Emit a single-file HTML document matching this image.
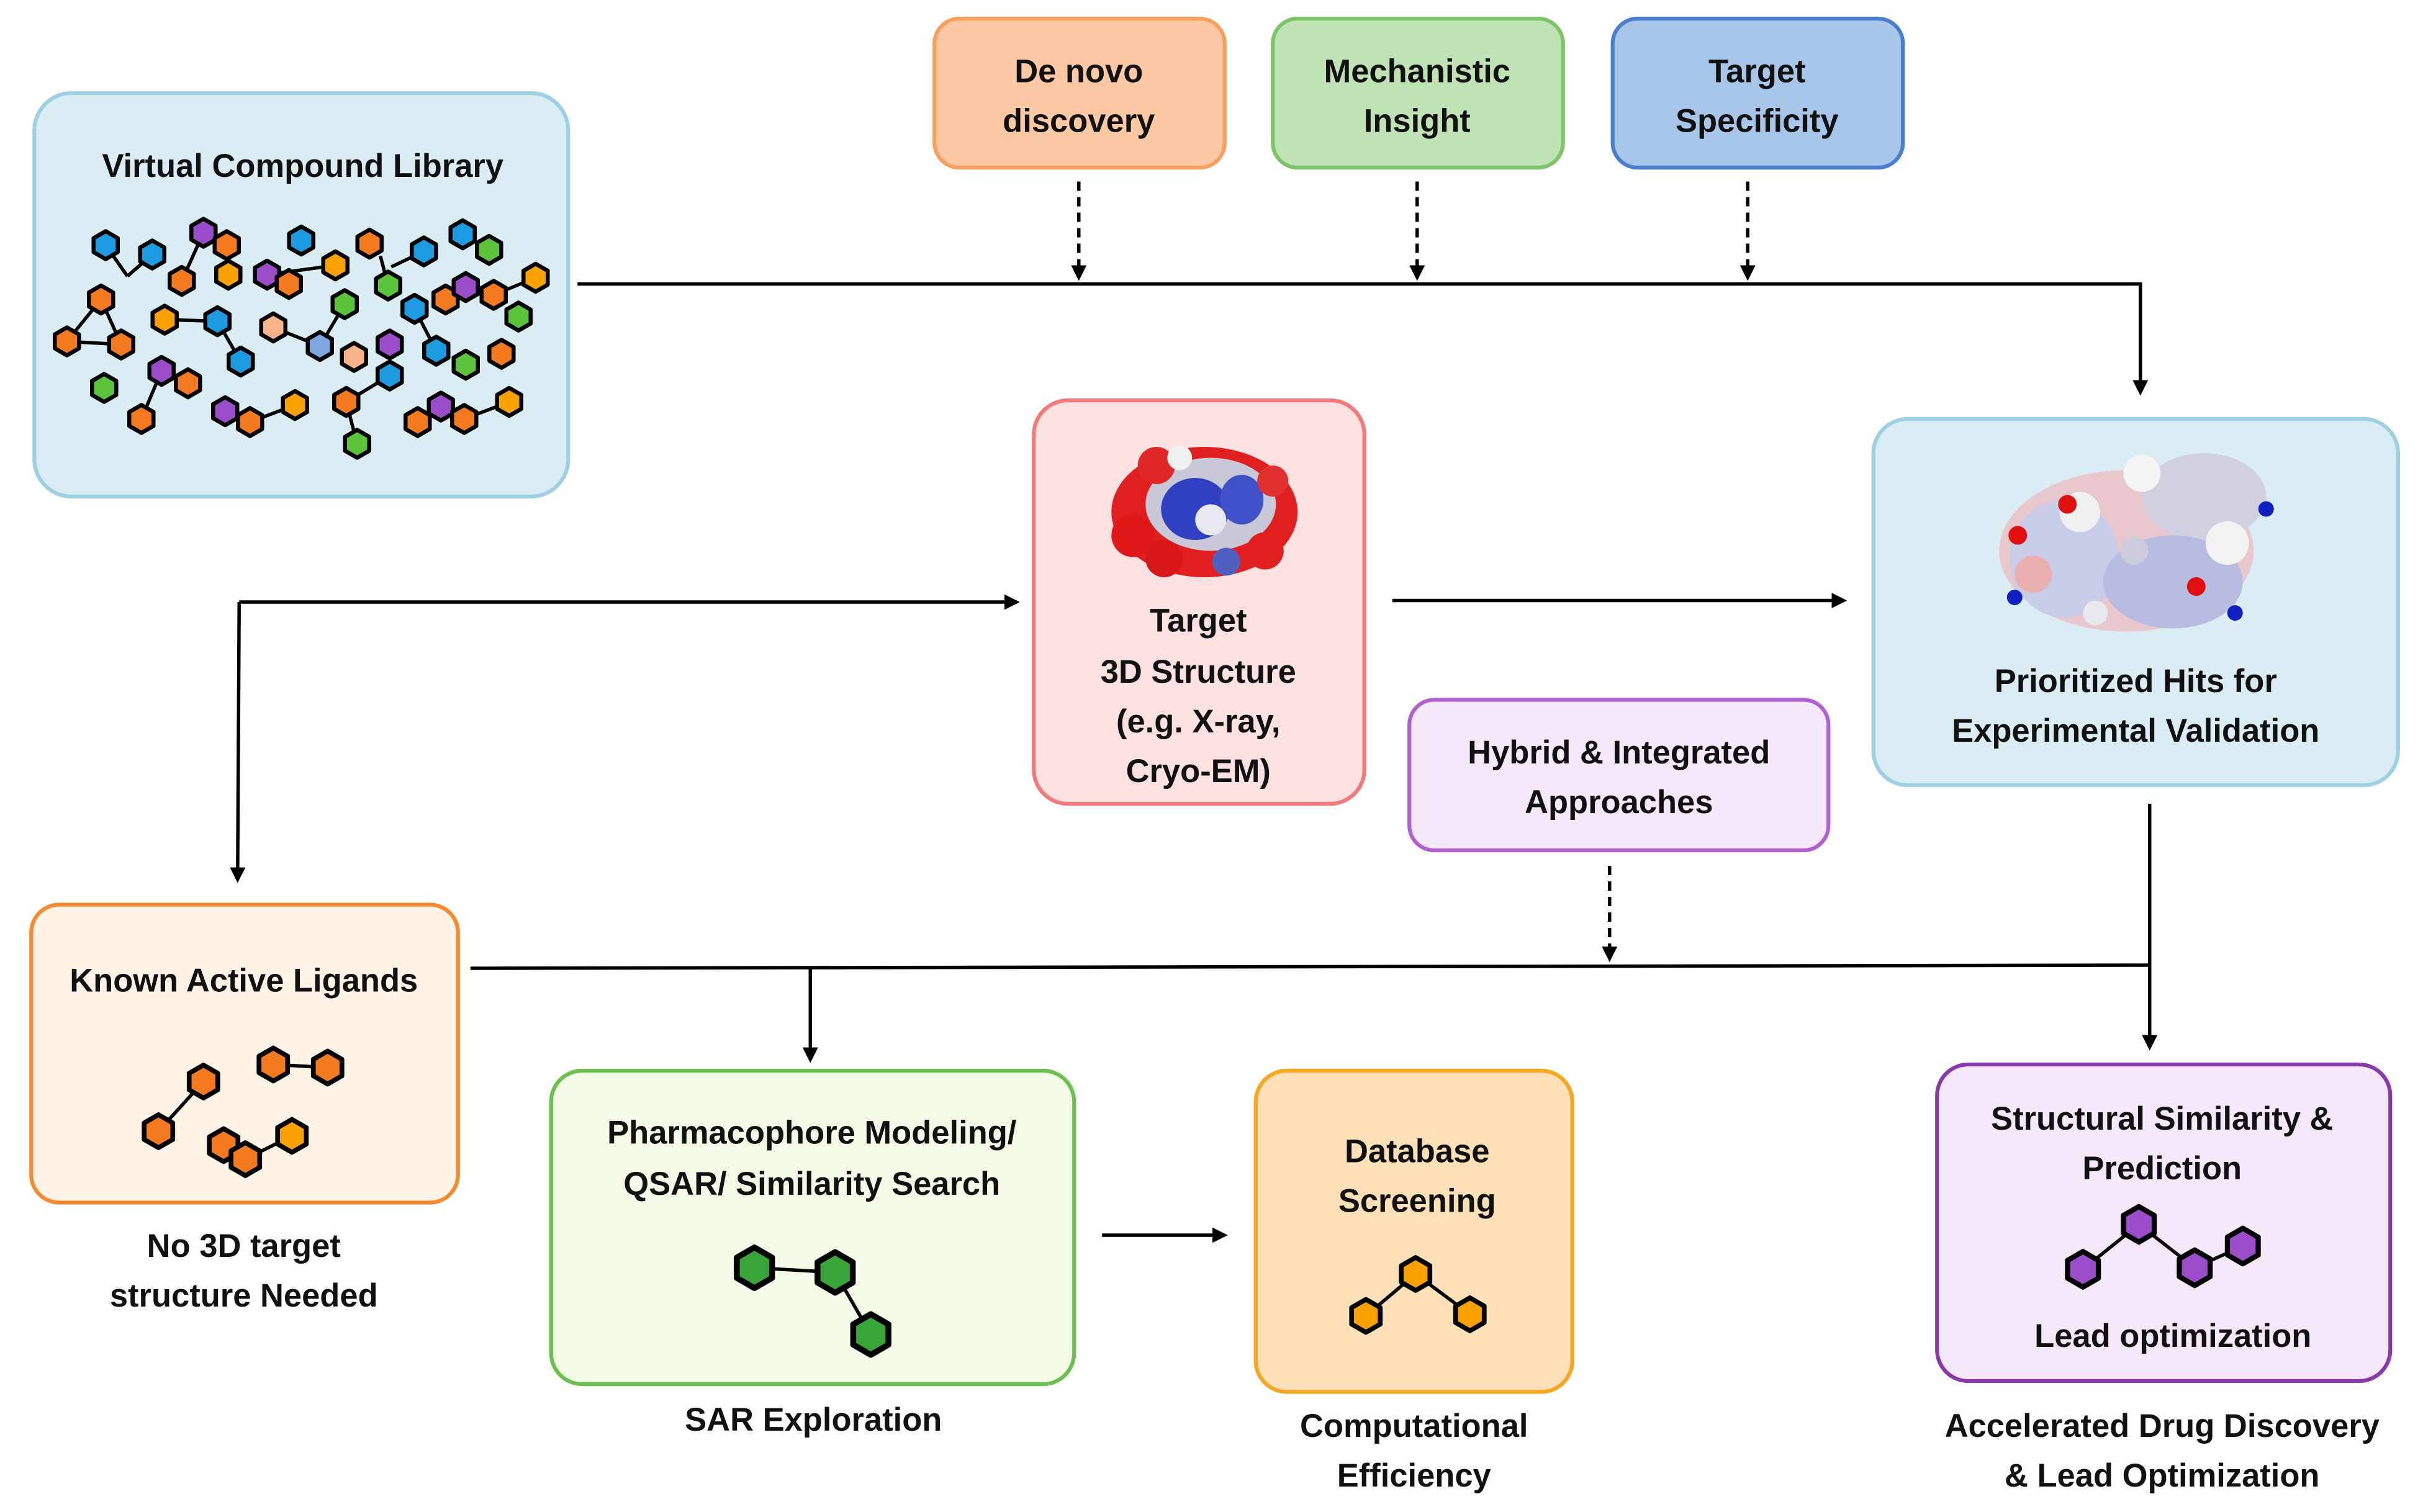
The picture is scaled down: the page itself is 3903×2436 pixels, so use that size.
<!DOCTYPE html>
<html><head><meta charset="utf-8">
<style>
html,body{margin:0;padding:0;background:#fff;}
svg{display:block;}
text{font-family:"Liberation Sans",sans-serif;font-weight:bold;font-size:21px;fill:#111;text-anchor:middle;}
</style></head>
<body>
<svg width="3903" height="2436" viewBox="0 0 1561 974.4" xmlns="http://www.w3.org/2000/svg">
<defs>
<symbol id="h" viewBox="-11 -11 22 22" overflow="visible"><polygon points="0,-9 7.8,-4.5 7.8,4.5 0,9 -7.8,4.5 -7.8,-4.5" stroke="#000" stroke-width="2.6" stroke-linejoin="round"/></symbol>
<marker id="a" markerWidth="10" markerHeight="10" refX="8" refY="5" orient="auto" markerUnits="userSpaceOnUse"><path d="M0,0 L10,5 L0,10 z" fill="#000"/></marker>
</defs>

<rect x="22" y="60" width="344" height="260" rx="24" fill="#daecf4" stroke="#9fcfe3" stroke-width="2.5"/>
<rect x="602" y="12" width="187" height="96" rx="16" fill="#fcc9a4" stroke="#f5a05e" stroke-width="2.5"/>
<rect x="820" y="12" width="187" height="96" rx="16" fill="#bfe3b4" stroke="#7cc46a" stroke-width="2.5"/>
<rect x="1039" y="12" width="187" height="96" rx="16" fill="#a8c5ea" stroke="#4a7fd0" stroke-width="2.5"/>
<rect x="666" y="258" width="213" height="260" rx="22" fill="#fde0e0" stroke="#f27a7a" stroke-width="2.5"/>
<rect x="1207" y="270" width="338" height="236" rx="22" fill="#daecf4" stroke="#9fcfe3" stroke-width="2.5"/>
<rect x="908" y="451" width="270" height="97" rx="16" fill="#f6e8fb" stroke="#b060d0" stroke-width="2.5"/>
<rect x="20" y="583" width="275" height="192" rx="18" fill="#fff3e6" stroke="#f58a30" stroke-width="2.5"/>
<rect x="355" y="690" width="337" height="202" rx="20" fill="#f3fbe6" stroke="#6cc050" stroke-width="2.5"/>
<rect x="809" y="690" width="204" height="207" rx="20" fill="#fde0b8" stroke="#f5a623" stroke-width="2.5"/>
<rect x="1248" y="686" width="292" height="204" rx="20" fill="#f6e8fb" stroke="#8a3aa8" stroke-width="2.5"/>

<g stroke="#000" stroke-width="2.2" fill="none">
<polyline points="372,183 1379,183 1379,253" marker-end="url(#a)"/>
<line x1="695" y1="117" x2="695" y2="179" stroke-dasharray="6,4" marker-end="url(#a)"/>
<line x1="913" y1="117" x2="913" y2="179" stroke-dasharray="6,4" marker-end="url(#a)"/>
<line x1="1126" y1="117" x2="1126" y2="179" stroke-dasharray="6,4" marker-end="url(#a)"/>
<line x1="154" y1="388" x2="655" y2="388" marker-end="url(#a)"/>
<line x1="154" y1="388" x2="153" y2="567" marker-end="url(#a)"/>
<line x1="897" y1="387" x2="1188" y2="387" marker-end="url(#a)"/>
<line x1="1385" y1="518" x2="1385" y2="675" marker-end="url(#a)"/>
<line x1="303" y1="624" x2="1385" y2="622"/>
<line x1="522" y1="624" x2="522" y2="683" marker-end="url(#a)"/>
<line x1="1037" y1="558" x2="1037" y2="618" stroke-dasharray="6,4" marker-end="url(#a)"/>
<line x1="710" y1="796" x2="789" y2="796" marker-end="url(#a)"/>
</g>

<g stroke="#000" stroke-width="2.2">
<line x1="68" y1="158" x2="82" y2="178"/><line x1="82" y1="178" x2="98" y2="164"/>
<line x1="131" y1="150" x2="117" y2="181"/><line x1="172" y1="177" x2="216" y2="171"/>
<line x1="250" y1="184" x2="245" y2="165"/><line x1="252" y1="172" x2="273" y2="162"/>
<line x1="318" y1="190" x2="345" y2="179"/><line x1="65" y1="193" x2="43" y2="220"/>
<line x1="65" y1="193" x2="78" y2="222"/><line x1="43" y1="220" x2="78" y2="222"/>
<line x1="106" y1="206" x2="140" y2="207"/><line x1="140" y1="207" x2="155" y2="233"/>
<line x1="176" y1="211" x2="206" y2="223"/><line x1="206" y1="223" x2="222" y2="196"/>
<line x1="267" y1="199" x2="281" y2="226"/><line x1="104" y1="239" x2="91" y2="270"/>
<line x1="161" y1="272" x2="190" y2="261"/><line x1="223" y1="259" x2="251" y2="242"/>
<line x1="223" y1="259" x2="230" y2="286"/><line x1="251" y1="222" x2="251" y2="242"/>
<line x1="299" y1="270" x2="328" y2="259"/>
<line x1="131" y1="697" x2="102" y2="729"/><line x1="176" y1="686" x2="211" y2="688"/>
<line x1="158" y1="747" x2="188" y2="732"/>
<line x1="486" y1="817" x2="538" y2="820"/><line x1="538" y1="820" x2="561" y2="860"/>
<line x1="880" y1="848" x2="912" y2="821"/><line x1="912" y1="821" x2="947" y2="847"/>
<line x1="1342" y1="818" x2="1378" y2="789"/><line x1="1378" y1="789" x2="1414" y2="817"/><line x1="1414" y1="817" x2="1445" y2="803"/>
</g>
<g>
<use href="#h" x="57" y="147" width="22" height="22" fill="#1e9be0"/>
<use href="#h" x="87" y="153" width="22" height="22" fill="#1e9be0"/>
<use href="#h" x="120" y="139" width="22" height="22" fill="#9b4cc9"/>
<use href="#h" x="135" y="147" width="22" height="22" fill="#f47a20"/>
<use href="#h" x="106" y="170" width="22" height="22" fill="#f47a20"/>
<use href="#h" x="136" y="166" width="22" height="22" fill="#f9a100"/>
<use href="#h" x="161" y="166" width="22" height="22" fill="#9b4cc9"/>
<use href="#h" x="175" y="172" width="22" height="22" fill="#f47a20"/>
<use href="#h" x="183" y="144" width="22" height="22" fill="#1e9be0"/>
<use href="#h" x="205" y="160" width="22" height="22" fill="#f9a100"/>
<use href="#h" x="227" y="146" width="22" height="22" fill="#f47a20"/>
<use href="#h" x="239" y="173" width="22" height="22" fill="#5cc43a"/>
<use href="#h" x="262" y="151" width="22" height="22" fill="#1e9be0"/>
<use href="#h" x="287" y="140" width="22" height="22" fill="#1e9be0"/>
<use href="#h" x="304" y="150" width="22" height="22" fill="#5cc43a"/>
<use href="#h" x="256" y="188" width="22" height="22" fill="#1e9be0"/>
<use href="#h" x="276" y="182" width="22" height="22" fill="#f47a20"/>
<use href="#h" x="289" y="174" width="22" height="22" fill="#9b4cc9"/>
<use href="#h" x="307" y="179" width="22" height="22" fill="#f47a20"/>
<use href="#h" x="334" y="168" width="22" height="22" fill="#f9a100"/>
<use href="#h" x="323" y="193" width="22" height="22" fill="#5cc43a"/>
<use href="#h" x="54" y="182" width="22" height="22" fill="#f47a20"/>
<use href="#h" x="32" y="209" width="22" height="22" fill="#f47a20"/>
<use href="#h" x="67" y="211" width="22" height="22" fill="#f47a20"/>
<use href="#h" x="95" y="195" width="22" height="22" fill="#f9a100"/>
<use href="#h" x="129" y="196" width="22" height="22" fill="#1e9be0"/>
<use href="#h" x="144" y="222" width="22" height="22" fill="#1e9be0"/>
<use href="#h" x="165" y="200" width="22" height="22" fill="#fbb38a"/>
<use href="#h" x="195" y="212" width="22" height="22" fill="#7fa6e0"/>
<use href="#h" x="217" y="219" width="22" height="22" fill="#fbb38a"/>
<use href="#h" x="211" y="185" width="22" height="22" fill="#5cc43a"/>
<use href="#h" x="240" y="211" width="22" height="22" fill="#9b4cc9"/>
<use href="#h" x="240" y="231" width="22" height="22" fill="#1e9be0"/>
<use href="#h" x="270" y="215" width="22" height="22" fill="#1e9be0"/>
<use href="#h" x="289" y="224" width="22" height="22" fill="#5cc43a"/>
<use href="#h" x="312" y="217" width="22" height="22" fill="#f47a20"/>
<use href="#h" x="56" y="239" width="22" height="22" fill="#5cc43a"/>
<use href="#h" x="93" y="228" width="22" height="22" fill="#9b4cc9"/>
<use href="#h" x="110" y="236" width="22" height="22" fill="#f47a20"/>
<use href="#h" x="80" y="259" width="22" height="22" fill="#f47a20"/>
<use href="#h" x="134" y="254" width="22" height="22" fill="#9b4cc9"/>
<use href="#h" x="150" y="261" width="22" height="22" fill="#f47a20"/>
<use href="#h" x="179" y="250" width="22" height="22" fill="#f9a100"/>
<use href="#h" x="212" y="248" width="22" height="22" fill="#f47a20"/>
<use href="#h" x="219" y="275" width="22" height="22" fill="#5cc43a"/>
<use href="#h" x="258" y="261" width="22" height="22" fill="#f47a20"/>
<use href="#h" x="273" y="251" width="22" height="22" fill="#9b4cc9"/>
<use href="#h" x="288" y="259" width="22" height="22" fill="#f47a20"/>
<use href="#h" x="317" y="248" width="22" height="22" fill="#f9a100"/>
<use href="#h" x="118" y="684" width="26" height="26" fill="#f47a20"/>
<use href="#h" x="89" y="716" width="26" height="26" fill="#f47a20"/>
<use href="#h" x="163" y="673" width="26" height="26" fill="#f47a20"/>
<use href="#h" x="198" y="675" width="26" height="26" fill="#f47a20"/>
<use href="#h" x="131" y="725" width="26" height="26" fill="#f47a20"/>
<use href="#h" x="145" y="734" width="26" height="26" fill="#f47a20"/>
<use href="#h" x="175" y="719" width="26" height="26" fill="#f9a100"/>
<use href="#h" x="470" y="801" width="32" height="32" fill="#3aa63a"/>
<use href="#h" x="522" y="804" width="32" height="32" fill="#3aa63a"/>
<use href="#h" x="545" y="844" width="32" height="32" fill="#3aa63a"/>
<use href="#h" x="867" y="835" width="26" height="26" fill="#f9a100"/>
<use href="#h" x="899" y="808" width="26" height="26" fill="#f9a100"/>
<use href="#h" x="934" y="834" width="26" height="26" fill="#f9a100"/>
<use href="#h" x="1328" y="804" width="28" height="28" fill="#9b4cc9"/>
<use href="#h" x="1364" y="775" width="28" height="28" fill="#9b4cc9"/>
<use href="#h" x="1400" y="803" width="28" height="28" fill="#9b4cc9"/>
<use href="#h" x="1431" y="789" width="28" height="28" fill="#9b4cc9"/>
</g>

<g>
<ellipse cx="776" cy="330" rx="60" ry="42" fill="#e02020"/>
<ellipse cx="780" cy="325" rx="42" ry="30" fill="#c8c8d8"/>
<ellipse cx="770" cy="328" rx="22" ry="20" fill="#3040c0"/>
<ellipse cx="800" cy="322" rx="14" ry="16" fill="#4050c8"/>
<ellipse cx="780" cy="335" rx="10" ry="10" fill="#e8e8f0"/>
<circle cx="730" cy="345" r="14" fill="#e01818"/><circle cx="750" cy="360" r="12" fill="#d81818"/>
<circle cx="745" cy="300" r="12" fill="#e02828"/><circle cx="815" cy="355" r="12" fill="#e02020"/>
<circle cx="790" cy="362" r="9" fill="#5060c0"/><circle cx="760" cy="295" r="8" fill="#f0f0f0"/>
<circle cx="820" cy="310" r="10" fill="#e03030"/>
</g>
<g>
<ellipse cx="1370" cy="355" rx="82" ry="52" fill="#e8c8cc"/>
<ellipse cx="1420" cy="320" rx="40" ry="28" fill="#d0d0e0"/>
<ellipse cx="1330" cy="360" rx="35" ry="38" fill="#c8cce8"/>
<ellipse cx="1400" cy="375" rx="45" ry="30" fill="#b8bce0"/>
<circle cx="1340" cy="330" r="13" fill="#f0f0f0"/><circle cx="1310" cy="370" r="12" fill="#eab0b0"/>
<circle cx="1380" cy="305" r="12" fill="#f4f4f4"/><circle cx="1435" cy="350" r="14" fill="#f2f2f2"/>
<circle cx="1300" cy="345" r="6" fill="#e01010"/><circle cx="1332" cy="325" r="6" fill="#e01010"/>
<circle cx="1415" cy="378" r="6" fill="#e01010"/><circle cx="1460" cy="328" r="5" fill="#1020c0"/>
<circle cx="1298" cy="385" r="5" fill="#1020c0"/><circle cx="1350" cy="395" r="8" fill="#e8e8ee"/>
<circle cx="1440" cy="395" r="5" fill="#1020c0"/><circle cx="1375" cy="355" r="9" fill="#ccccdd"/>
</g>

<text x="195" y="114">Virtual Compound Library</text>
<text x="695" y="53">De novo</text><text x="695" y="85">discovery</text>
<text x="913" y="53">Mechanistic</text><text x="913" y="85">Insight</text>
<text x="1132" y="53">Target</text><text x="1132" y="85">Specificity</text>
<text x="772" y="407">Target</text><text x="772" y="440">3D Structure</text>
<text x="772" y="472">(e.g. X-ray,</text><text x="772" y="504">Cryo-EM)</text>
<text x="1376" y="446">Prioritized Hits for</text><text x="1376" y="478">Experimental  Validation</text>
<text x="1043" y="492">Hybrid &amp; Integrated</text><text x="1043" y="524">Approaches</text>
<text x="157" y="639">Known Active Ligands</text>
<text x="157" y="810">No 3D target</text><text x="157" y="842">structure Needed</text>
<text x="523" y="737">Pharmacophore Modeling/</text><text x="523" y="770">QSAR/ Similarity Search</text>
<text x="524" y="922">SAR Exploration</text>
<text x="913" y="749">Database</text><text x="913" y="781">Screening</text>
<text x="911" y="926">Computational</text><text x="911" y="958">Efficiency</text>
<text x="1393" y="728">Structural Similarity &amp;</text><text x="1393" y="760">Prediction</text>
<text x="1400" y="868">Lead optimization</text>
<text x="1393" y="926">Accelerated Drug Discovery</text><text x="1393" y="958">&amp; Lead Optimization</text>
</svg>
</body></html>
